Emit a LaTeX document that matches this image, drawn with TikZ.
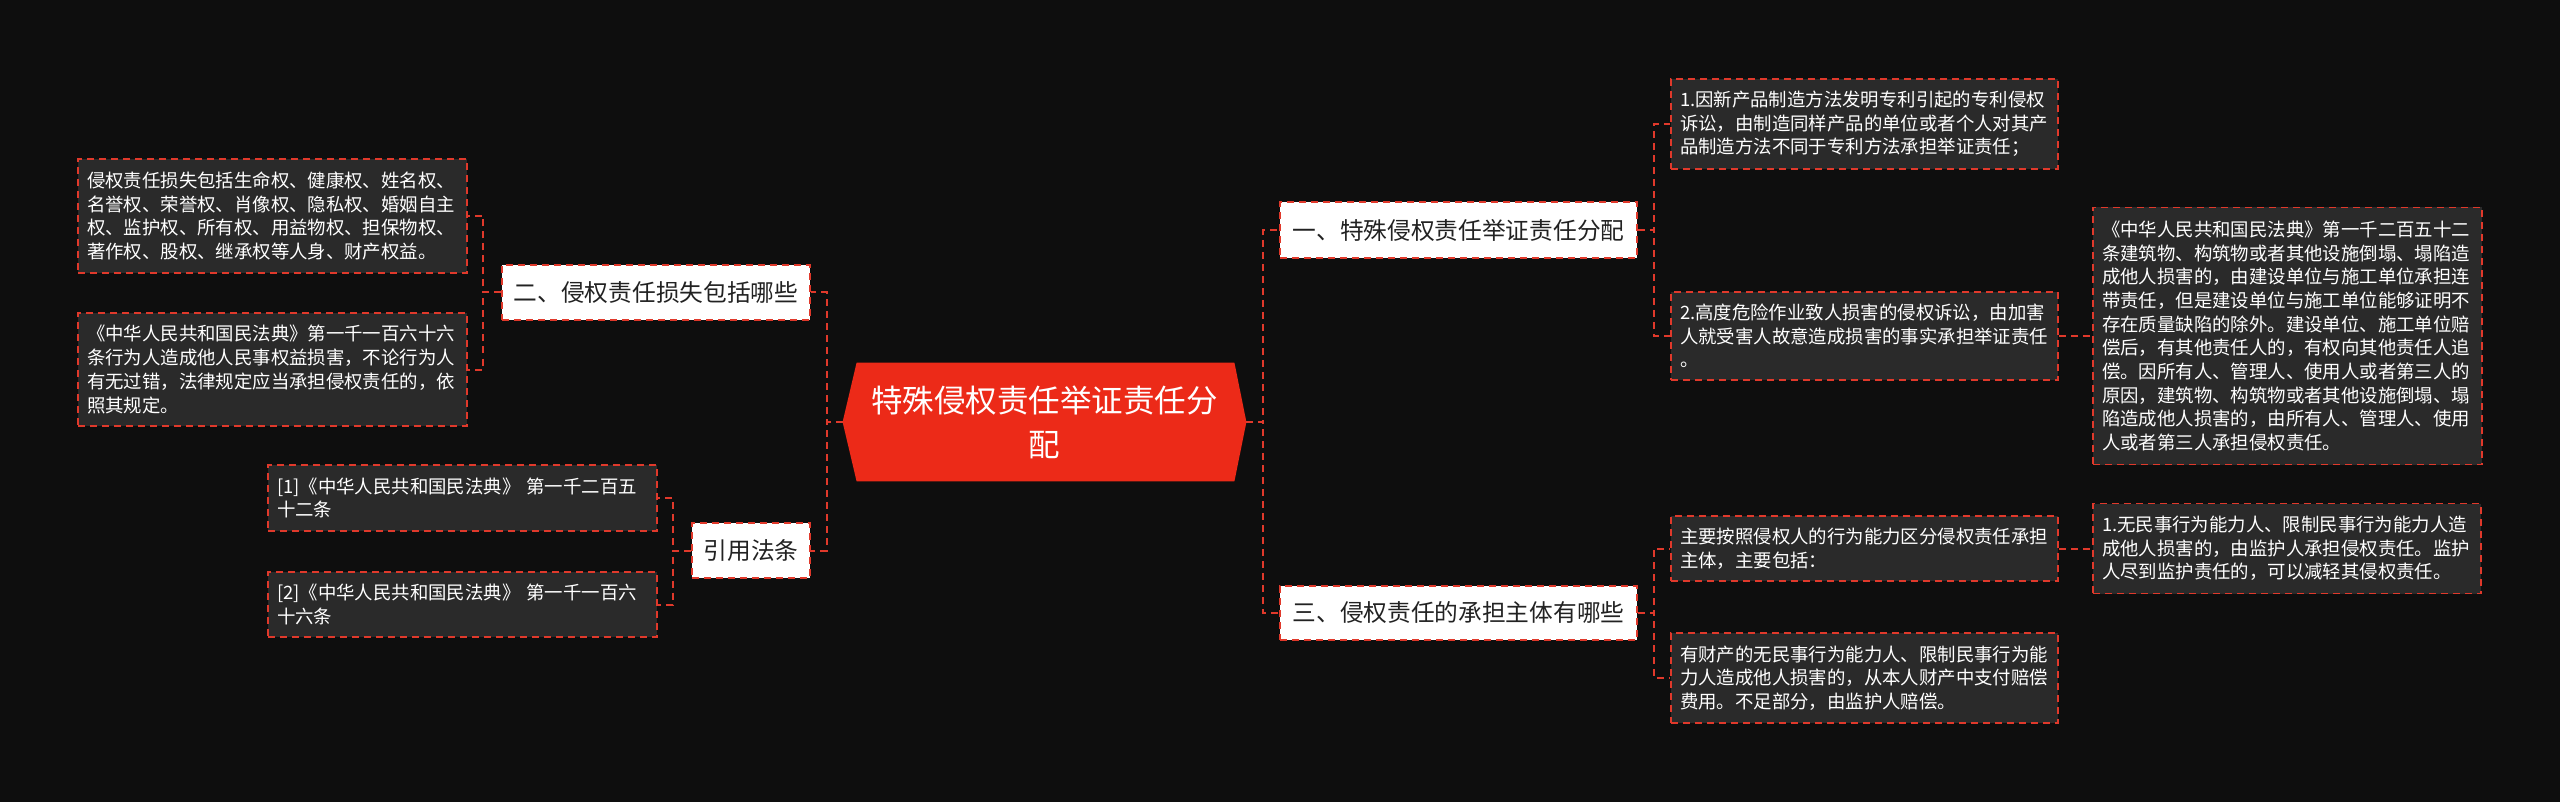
\documentclass[tikz,border=0pt]{standalone}
\usepackage{fontspec}
\setmainfont{Noto Sans CJK SC}
\definecolor{pagebg}{HTML}{0E0E0E}
\definecolor{leafbg}{HTML}{2A2A2A}
\definecolor{dashred}{HTML}{E0392B}
\definecolor{mainred}{HTML}{EC2A18}
\definecolor{darktxt}{HTML}{222222}
\pgfdeclarelayer{bglayer}
\pgfsetlayers{bglayer,main}
\tikzset{
  conn/.style={draw=dashred, line width=1pt, dash pattern=on 3.5pt off 2.5pt},
  leafbox/.style={draw=dashred, line width=0.9pt, dash pattern=on 3.5pt off 2.5pt,
    fill=leafbg, text=white, align=left, inner xsep=4.5pt, inner ysep=0pt,
    font=\fontsize{9.2}{11.85}\selectfont},
  topicbox/.style={draw=dashred, line width=0.9pt, dash pattern=on 3.5pt off 2.5pt,
    fill=white, text=darktxt, align=center, inner sep=0pt,
    font=\fontsize{11.85}{14}\selectfont},
  rootbox/.style={text=white, align=center, inner sep=0pt,
    font=\fontsize{15.75}{22}\selectfont}
}
\begin{document}
\begin{tikzpicture}[x=0.5pt,y=-0.5pt]
\useasboundingbox (0,0) rectangle (2560,802);
% root
\node[rootbox, minimum width=201.5pt, minimum height=59pt] (c) at (1044.5,422)
  {特殊侵权责任举证责任分\\配};
% level 1
\node[topicbox, minimum width=178.5pt, minimum height=28pt] (t1) at (1458.5,230) {一、特殊侵权责任举证责任分配};
\node[topicbox, minimum width=178.5pt, minimum height=27pt] (t3) at (1458.5,613) {三、侵权责任的承担主体有哪些};
\node[topicbox, minimum width=154pt, minimum height=27.5pt] (t2) at (656,292.5) {二、侵权责任损失包括哪些};
\node[topicbox, minimum width=59pt, minimum height=27.5pt] (t4) at (751,550.5) {引用法条};
% left leaves
\node[leafbox, text width=185.5pt, minimum height=57pt] (l1) at (272.5,216)
  {侵权责任损失包括生命权、健康权、姓名权、\\名誉权、荣誉权、肖像权、隐私权、婚姻自主\\权、监护权、所有权、用益物权、担保物权、\\著作权、股权、继承权等人身、财产权益。};
\node[leafbox, text width=185.5pt, minimum height=56.5pt] (l2) at (272.5,369.5)
  {《中华人民共和国民法典》第一千一百六十六\\条行为人造成他人民事权益损害，不论行为人\\有无过错，法律规定应当承担侵权责任的，依\\照其规定。};
\node[leafbox, text width=185.5pt, minimum height=33pt] (r1) at (462.5,498)
  {[1]《中华人民共和国民法典》 第一千二百五\\十二条};
\node[leafbox, text width=185.5pt, minimum height=32.5pt] (r2) at (462.5,604.5)
  {[2]《中华人民共和国民法典》 第一千一百六\\十六条};
% right leaves
\node[leafbox, text width=184.5pt, minimum height=45pt] (a1) at (1864.5,124)
  {1.因新产品制造方法发明专利引起的专利侵权\\诉讼，由制造同样产品的单位或者个人对其产\\品制造方法不同于专利方法承担举证责任；};
\node[leafbox, text width=184.5pt, minimum height=44pt] (a2) at (1864.5,336)
  {2.高度危险作业致人损害的侵权诉讼，由加害\\人就受害人故意造成损害的事实承担举证责任\\。};
\node[leafbox, text width=185.5pt, minimum height=128.5pt] (a3) at (2287.5,336)
  {《中华人民共和国民法典》第一千二百五十二\\条建筑物、构筑物或者其他设施倒塌、塌陷造\\成他人损害的，由建设单位与施工单位承担连\\带责任，但是建设单位与施工单位能够证明不\\存在质量缺陷的除外。建设单位、施工单位赔\\偿后，有其他责任人的，有权向其他责任人追\\偿。因所有人、管理人、使用人或者第三人的\\原因，建筑物、构筑物或者其他设施倒塌、塌\\陷造成他人损害的，由所有人、管理人、使用\\人或者第三人承担侵权责任。};
\node[leafbox, text width=184.5pt, minimum height=32.5pt] (b1) at (1864.5,548.5)
  {主要按照侵权人的行为能力区分侵权责任承担\\主体，主要包括：};
\node[leafbox, text width=184.5pt, minimum height=45pt] (b2) at (1864.5,678)
  {有财产的无民事行为能力人、限制民事行为能\\力人造成他人损害的，从本人财产中支付赔偿\\费用。不足部分，由监护人赔偿。};
\node[leafbox, text width=185pt, minimum height=45pt] (b3) at (2287,548.5)
  {1.无民事行为能力人、限制民事行为能力人造\\成他人损害的，由监护人承担侵权责任。监护\\人尽到监护责任的，可以减轻其侵权责任。};
% connectors
\draw[conn] (c.west) -- ++(-16,0) |- (t2.east);
\draw[conn] (c.west) -- ++(-16,0) |- (t4.east);
\draw[conn] (c.east) -- ++(17,0) |- (t1.west);
\draw[conn] (c.east) -- ++(17,0) |- (t3.west);
\draw[conn] (t2.west) -- ++(-18,0) |- (l1.east);
\draw[conn] (t2.west) -- ++(-18,0) |- (l2.east);
\draw[conn] (t4.west) -- ++(-18,0) |- (r1.east);
\draw[conn] (t4.west) -- ++(-18,0) |- (r2.east);
\draw[conn] (t1.east) -- ++(16,0) |- (a1.west);
\draw[conn] (t1.east) -- ++(16,0) |- (a2.west);
\draw[conn] (a2.east) -- (a3.west);
\draw[conn] (t3.east) -- ++(16,0) |- (b1.west);
\draw[conn] (t3.east) -- ++(16,0) |- (b2.west);
\draw[conn] (b1.east) -- (b3.west);
\begin{pgfonlayer}{bglayer}
\fill[pagebg] (0,0) rectangle (2560,802);
\fill[mainred] (c.west) -- ([xshift=14*0.5pt]c.north west) -- ([xshift=-12*0.5pt]c.north east)
  -- (c.east) -- ([xshift=-12*0.5pt]c.south east) -- ([xshift=14*0.5pt]c.south west) -- cycle;
\end{pgfonlayer}
\end{tikzpicture}
\end{document}
